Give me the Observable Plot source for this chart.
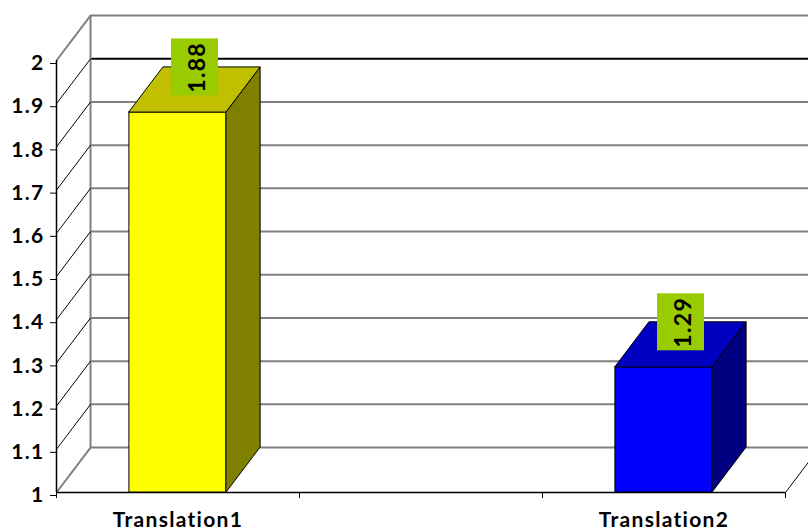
<!DOCTYPE html>
<html><head><meta charset="utf-8">
<script src="https://cdn.jsdelivr.net/npm/d3@7"></script>
<script src="https://cdn.jsdelivr.net/npm/@observablehq/plot@0.6"></script>
<style>html,body{margin:0;padding:0;background:#fff;overflow:hidden} svg text{letter-spacing:1.3px}</style>
</head><body><div id="chart"></div>
<script>
// ---- data ----
const categories = ["Translation1", "", "Translation2"];
const values = [1.88, null, 1.29];
const valueLabels = ["1.88", "", "1.29"];
const yTicks = [1, 1.1, 1.2, 1.3, 1.4, 1.5, 1.6, 1.7, 1.8, 1.9, 2];
const yTickLabels = ["1", "1.1", "1.2", "1.3", "1.4", "1.5", "1.6", "1.7", "1.8", "1.9", "2"];

// ---- styles ----
const frontColors = ["#FFFF00", null, "#0000FF"];
const sideColors = ["#808000", null, "#000080"];
const topColors = ["#C0C000", null, "#0000C0"];
const GRAY = "#808080";
const DX = 0.14;   // 3D depth, in category units
const DY = 0.104;  // 3D depth, in value units
const HALF = 0.2;  // half bar width, in category units
const FONT = "Lato, 'Liberation Sans', Arial, sans-serif";

const bars = categories.map((c, i) => ({
  cat: c, v: values[i], pos: i + 0.5, label: valueLabels[i],
  front: frontColors[i], side: sideColors[i], top: topColors[i]
})).filter(d => d.v != null);

const sideData = bars.flatMap(d => [
  {cat: d.cat, fill: d.side, x: d.pos + HALF, y1: 1, y2: d.v},
  {cat: d.cat, fill: d.side, x: d.pos + HALF + DX, y1: 1 + DY, y2: d.v + DY}
]);
const topData = bars.flatMap(d => [
  {cat: d.cat, fill: d.top, y: d.v, xa: d.pos - HALF, xb: d.pos + HALF},
  {cat: d.cat, fill: d.top, y: d.v + DY, xa: d.pos - HALF + DX, xb: d.pos + HALF + DX}
]);
const nCat = categories.length;
const xTicks = d3.range(nCat + 1);

const chart = Plot.plot({
  width: 808,
  height: 532,
  marginLeft: 56,
  marginRight: 23,
  marginTop: 60,
  marginBottom: 40,
  style: {fontFamily: FONT, background: "#fff", overflow: "hidden"},
  x: {type: "linear", domain: [0, nCat], axis: null},
  y: {type: "linear", domain: [1, 2], axis: null},
  color: {type: "identity"},
  marks: [
    // back wall gridlines
    Plot.ruleY(yTicks, {y: d => d + DY, x1: DX, x2: nCat + DX,
      stroke: d => d === 1.9 ? "#000" : GRAY, strokeWidth: 2}),
    // back wall left edge
    Plot.ruleX([DX], {y1: 1 + DY, y2: 2 + DY, stroke: GRAY, strokeWidth: 2}),
    // left wall diagonals
    Plot.link(yTicks, {x1: 0, y1: d => d, x2: DX, y2: d => d + DY,
      stroke: d => (d === 1 || d === 2) ? GRAY : "#000",
      strokeWidth: d => (d === 1 || d === 2) ? 2 : 1}),
    // floor right diagonal
    Plot.link([nCat], {x1: d => d, y1: 1, x2: d => d + DX, y2: 1 + DY, stroke: "#000", strokeWidth: 1}),
    // front baseline
    Plot.ruleY([1], {x1: 0, x2: nCat, stroke: "#000", strokeWidth: 1.5}),
    // front y axis line
    Plot.ruleX([0], {y1: 1, y2: 2, stroke: "#000", strokeWidth: 1.5}),
    Plot.axisY(yTicks, {tickSize: 6, tickPadding: 6, tickFormat: (d, i) => yTickLabels[i],
      fontSize: 21, fontWeight: "bold", dy: 3, fill: "#000"}),
    Plot.axisX(xTicks, {tickSize: 6, tickFormat: () => ""}),
    // bars: front, side, top
    Plot.rect(bars, {x1: d => d.pos - HALF, x2: d => d.pos + HALF, y1: 1, y2: "v",
      fill: "front", stroke: "#000", strokeWidth: 1}),
    Plot.area(sideData, {x1: "x", y1: "y1", y2: "y2", z: "cat", fill: "fill",
      stroke: "#000", strokeWidth: 1}),
    Plot.area(topData, {y1: "y", x1: "xa", x2: "xb", z: "cat", fill: "fill",
      stroke: "#000", strokeWidth: 1}),
    // value label boxes and text
    Plot.rect(bars, {x1: d => d.pos + DX / 2, x2: d => d.pos + DX / 2,
      y1: d => d.v + DY, y2: d => d.v + DY,
      insetLeft: -23.5, insetRight: -23.5, insetTop: -28.5, insetBottom: -28.5,
      fill: "#99CC00"}),
    Plot.text(bars, {x: d => d.pos + DX / 2, y: d => d.v + DY, text: "label",
      rotate: -90, fontSize: 23, fontWeight: "bold", fill: "#000", dx: 3}),
    // category labels
    Plot.text(bars, {x: "pos", y: 1, text: "cat", dy: 28, fontSize: 21,
      fontWeight: "bold", fill: "#000"})
  ]
});
document.getElementById("chart").appendChild(chart);
</script>
</body></html>
